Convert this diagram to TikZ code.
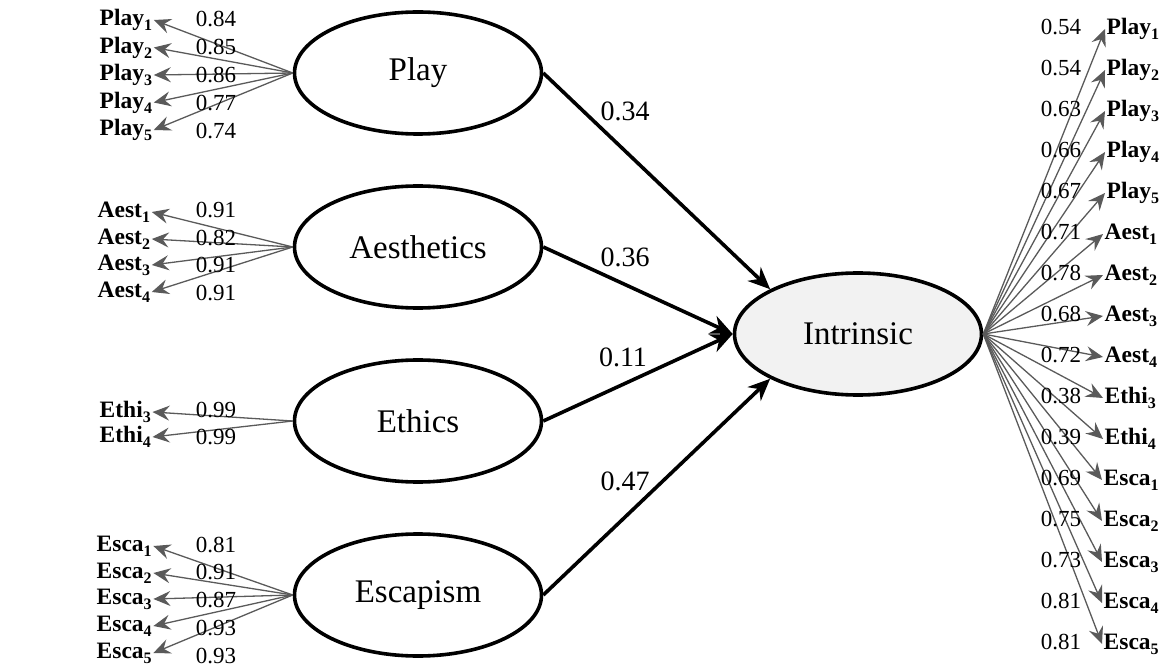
\documentclass[tikz,border=0pt]{standalone}
\usepackage{fontspec}
\setmainfont{Liberation Serif}
\usetikzlibrary{arrows.meta,shapes.geometric}
\definecolor{arrowgray}{RGB}{90,90,90}
\definecolor{intrgray}{RGB}{242,242,242}
\newcommand{\lsub}[1]{\raisebox{-5pt}{\fontsize{16}{16}\selectfont #1}}
\begin{document}
\begin{tikzpicture}[x=1pt,y=-1pt,
  latent/.style={ellipse, draw=black, line width=3.6pt, minimum width=247pt, minimum height=122pt, inner sep=0pt, font=\fontsize{33}{36}\selectfont},
  mainarrow/.style={line width=3.6pt, -{Stealth[length=22pt,width=19pt,inset=7pt]}},
  loadarrow/.style={draw=arrowgray, line width=1.3pt, -{Stealth[length=17pt,width=15pt,inset=6pt]}},
  ind/.style={font=\bfseries\fontsize{23.5}{25}\selectfont, inner sep=1.5pt},
  val/.style={font=\fontsize{23}{25}\selectfont, inner sep=0pt},
  coef/.style={font=\fontsize{28}{30}\selectfont, inner sep=0pt},
]
\path[use as bounding box] (0,0) rectangle (1167,668);

% latent variables
\node[latent] (play) at (418,73) {Play};
\node[latent] (aest) at (418,247) {Aesthetics};
\node[latent] (ethi) at (418,421) {Ethics};
\node[latent] (esca) at (418,595) {Escapism};
\node[latent, fill=intrgray] (intr) at (858,334) {Intrinsic};

% structural paths
\draw[mainarrow] (play.east) -- (intr.153);
\draw[mainarrow] (aest.east) -- (intr.west);
\draw[mainarrow] (ethi.east) -- (intr.west);
\draw[mainarrow] (esca.east) -- (intr.207);
\node[coef] (c1) at (625,111) {0.34};
\node[coef] (c2) at (625,257) {0.36};
\node[coef] (c3) at (623,357) {0.11};
\node[coef] (c4) at (625,481) {0.47};

% left indicators
\node[ind, anchor=west] (lp1) at (98,20) {Play\lsub{1}};
\node[ind, anchor=west] (lp2) at (98,47.5) {Play\lsub{2}};
\node[ind, anchor=west] (lp3) at (98,75) {Play\lsub{3}};
\node[ind, anchor=west] (lp4) at (98,102.5) {Play\lsub{4}};
\node[ind, anchor=west] (lp5) at (98,130) {Play\lsub{5}};
\node[ind, anchor=west] (la1) at (96,212) {Aest\lsub{1}};
\node[ind, anchor=west] (la2) at (96,239) {Aest\lsub{2}};
\node[ind, anchor=west] (la3) at (96,265) {Aest\lsub{3}};
\node[ind, anchor=west] (la4) at (96,292) {Aest\lsub{4}};
\node[ind, anchor=west] (lt3) at (98,412) {Ethi\lsub{3}};
\node[ind, anchor=west] (lt4) at (98,437) {Ethi\lsub{4}};
\node[ind, anchor=west] (le1) at (95,546) {Esca\lsub{1}};
\node[ind, anchor=west] (le2) at (95,573) {Esca\lsub{2}};
\node[ind, anchor=west] (le3) at (95,599) {Esca\lsub{3}};
\node[ind, anchor=west] (le4) at (95,626) {Esca\lsub{4}};
\node[ind, anchor=west] (le5) at (95,653) {Esca\lsub{5}};

\foreach \t in {lp1,lp2,lp3,lp4,lp5} \draw[loadarrow] (play.west) -- (\t.east);
\foreach \t in {la1,la2,la3,la4} \draw[loadarrow] (aest.west) -- (\t.east);
\foreach \t in {lt3,lt4} \draw[loadarrow] (ethi.west) -- (\t.east);
\foreach \t in {le1,le2,le3,le4,le5} \draw[loadarrow] (esca.west) -- (\t.east);

\node[val] (vlp1) at (216,19) {0.84};
\node[val] (vlp2) at (216,47) {0.85};
\node[val] (vlp3) at (216,75) {0.86};
\node[val] (vlp4) at (216,103) {0.77};
\node[val] (vlp5) at (216,131) {0.74};
\node[val] (vla1) at (216,210) {0.91};
\node[val] (vla2) at (216,238) {0.82};
\node[val] (vla3) at (216,265) {0.91};
\node[val] (vla4) at (216,293) {0.91};
\node[val] (vlt3) at (216,410) {0.99};
\node[val] (vlt4) at (216,437) {0.99};
\node[val] (vle1) at (216,545) {0.81};
\node[val] (vle2) at (216,572) {0.91};
\node[val] (vle3) at (216,600) {0.87};
\node[val] (vle4) at (216,628) {0.93};
\node[val] (vle5) at (216,656) {0.93};

% right indicators
\node[ind, anchor=west] (rp1) at (1105,29) {Play\lsub{1}};
\node[ind, anchor=west] (rp2) at (1105,70) {Play\lsub{2}};
\node[ind, anchor=west] (rp3) at (1105,111) {Play\lsub{3}};
\node[ind, anchor=west] (rp4) at (1105,152) {Play\lsub{4}};
\node[ind, anchor=west] (rp5) at (1105,193) {Play\lsub{5}};
\node[ind, anchor=west] (ra1) at (1103,234) {Aest\lsub{1}};
\node[ind, anchor=west] (ra2) at (1103,275) {Aest\lsub{2}};
\node[ind, anchor=west] (ra3) at (1103,316) {Aest\lsub{3}};
\node[ind, anchor=west] (ra4) at (1103,357) {Aest\lsub{4}};
\node[ind, anchor=west] (rt3) at (1103,398) {Ethi\lsub{3}};
\node[ind, anchor=west] (rt4) at (1103,439) {Ethi\lsub{4}};
\node[ind, anchor=west] (re1) at (1102,480) {Esca\lsub{1}};
\node[ind, anchor=west] (re2) at (1102,521) {Esca\lsub{2}};
\node[ind, anchor=west] (re3) at (1102,562) {Esca\lsub{3}};
\node[ind, anchor=west] (re4) at (1102,603) {Esca\lsub{4}};
\node[ind, anchor=west] (re5) at (1102,644) {Esca\lsub{5}};

\foreach \t in {rp1,rp2,rp3,rp4,rp5,ra1,ra2,ra3,ra4,rt3,rt4,re1,re2,re3,re4,re5}
  \draw[loadarrow] (intr.east) -- (\t.west);

\node[val] (vrp1) at (1061,27) {0.54};
\node[val] (vrp2) at (1061,68) {0.54};
\node[val] (vrp3) at (1061,109) {0.63};
\node[val] (vrp4) at (1061,150) {0.66};
\node[val] (vrp5) at (1061,191) {0.67};
\node[val] (vra1) at (1061,232) {0.71};
\node[val] (vra2) at (1061,273) {0.78};
\node[val] (vra3) at (1061,314) {0.68};
\node[val] (vra4) at (1061,355) {0.72};
\node[val] (vrt3) at (1061,396) {0.38};
\node[val] (vrt4) at (1061,437) {0.39};
\node[val] (vre1) at (1061,478) {0.69};
\node[val] (vre2) at (1061,519) {0.75};
\node[val] (vre3) at (1061,560) {0.73};
\node[val] (vre4) at (1061,601) {0.81};
\node[val] (vre5) at (1061,642) {0.81};
\end{tikzpicture}
\end{document}
